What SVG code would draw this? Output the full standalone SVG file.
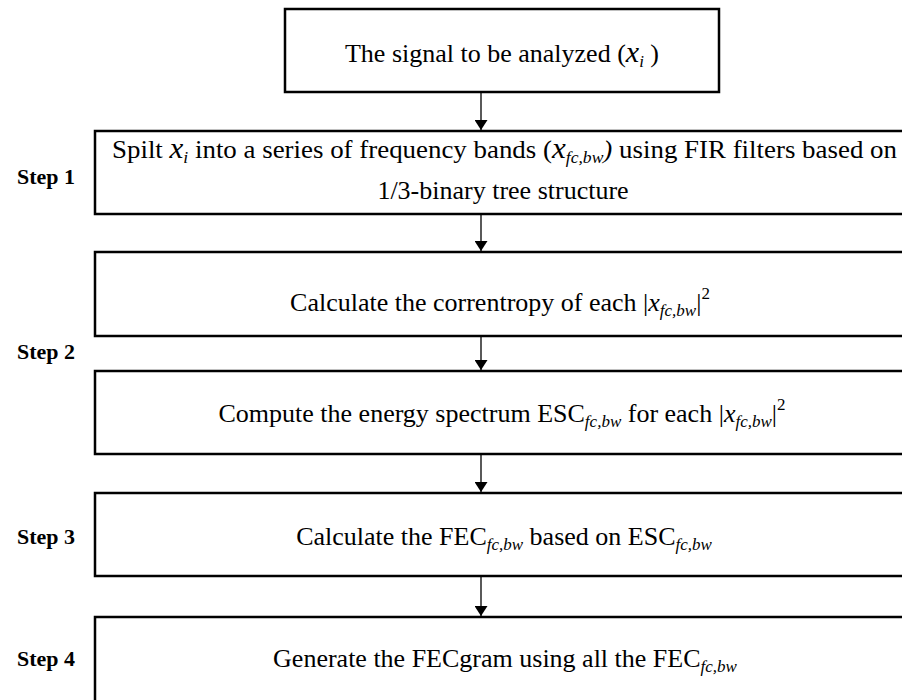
<svg xmlns="http://www.w3.org/2000/svg" width="902" height="700" viewBox="0 0 902 700">
<style>
.box{fill:#fff;stroke:#000;stroke-width:2.5}
.t{font-family:"Liberation Serif","Times New Roman",serif;font-size:26px;fill:#000}
.lab{font-family:"Liberation Serif","Times New Roman",serif;font-size:21px;font-weight:bold;fill:#000}
.i{font-style:italic}
.sub{font-style:italic;font-size:17px}
.conn line{stroke:#000;stroke-width:1.3}
</style>
<defs>
<marker id="ah" viewBox="0 0 10 13" refX="10" refY="6.5" markerWidth="10" markerHeight="13" markerUnits="userSpaceOnUse" orient="auto">
<path d="M0,0 L10,6.5 L0,13 Z" fill="#000"/>
</marker>
</defs>
<rect width="902" height="700" fill="#fff"/>
<g class="conn">
<line x1="481" y1="92" x2="481" y2="130" marker-end="url(#ah)"/>
<line x1="481" y1="214" x2="481" y2="251" marker-end="url(#ah)"/>
<line x1="481" y1="336" x2="481" y2="370" marker-end="url(#ah)"/>
<line x1="481" y1="454" x2="481" y2="492" marker-end="url(#ah)"/>
<line x1="481" y1="576" x2="481" y2="616" marker-end="url(#ah)"/>
</g>
<g id="start">
<rect class="box" x="285" y="9" width="434" height="83"/>
<text class="t" x="502" y="62" text-anchor="middle">The signal to be analyzed (<tspan class="i" font-size="30">x</tspan><tspan class="sub" dy="5">i</tspan><tspan dy="-5"> )</tspan></text>
</g>
<g id="step1">
<rect class="box" x="95" y="131" width="820" height="83"/>
<text class="t" x="112" y="158" textLength="785" lengthAdjust="spacingAndGlyphs">Spilt <tspan class="i" font-size="30">x</tspan><tspan class="sub" dy="5">i</tspan><tspan dy="-5"> into a series of frequency bands (</tspan><tspan class="i" font-size="30">x</tspan><tspan class="sub" dy="5">fc,bw</tspan><tspan dy="-5" class="i">)</tspan>   using FIR filters based on</text>
<text class="t" x="503" y="199" text-anchor="middle">1/3-binary tree structure</text>
</g>
<g id="step2a">
<rect class="box" x="95" y="252" width="820" height="84"/>
<text class="t" x="500" y="311" text-anchor="middle">Calculate the correntropy of each |<tspan class="i">x</tspan><tspan class="sub" dy="5">fc,bw</tspan><tspan dy="-5">|</tspan><tspan font-size="17" dy="-12">2</tspan></text>
</g>
<g id="step2b">
<rect class="box" x="95" y="371" width="820" height="83"/>
<text class="t" x="502" y="422" text-anchor="middle">Compute the energy spectrum ESC<tspan class="sub" dy="5">fc,bw</tspan><tspan dy="-5"> for each |</tspan><tspan class="i">x</tspan><tspan class="sub" dy="5">fc,bw</tspan><tspan dy="-5">|</tspan><tspan font-size="17" dy="-12">2</tspan></text>
</g>
<g id="step3">
<rect class="box" x="95" y="493" width="820" height="83"/>
<text class="t" x="504" y="545" text-anchor="middle">Calculate the FEC<tspan class="sub" dy="5">fc,bw</tspan><tspan dy="-5"> based on ESC</tspan><tspan class="sub" dy="5">fc,bw</tspan></text>
</g>
<g id="step4">
<rect class="box" x="95" y="617" width="820" height="100"/>
<text class="t" x="505" y="667" text-anchor="middle">Generate the FECgram using all the FEC<tspan class="sub" dy="5">fc,bw</tspan></text>
</g>
<g id="labels">
<text class="lab" x="17" y="184" textLength="58" lengthAdjust="spacingAndGlyphs">Step 1</text>
<text class="lab" x="17" y="359" textLength="58" lengthAdjust="spacingAndGlyphs">Step 2</text>
<text class="lab" x="17" y="544" textLength="58" lengthAdjust="spacingAndGlyphs">Step 3</text>
<text class="lab" x="17" y="666" textLength="58" lengthAdjust="spacingAndGlyphs">Step 4</text>
</g>
</svg>
